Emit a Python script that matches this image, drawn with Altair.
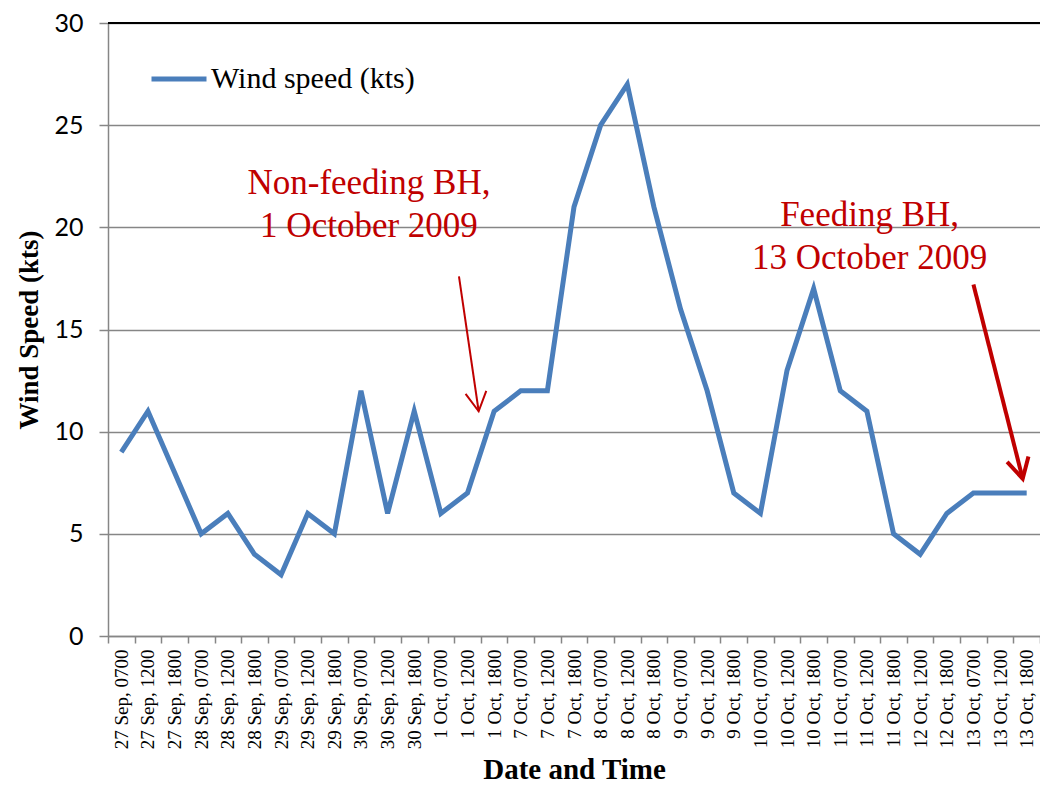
import altair as alt
import pandas as pd

labels = [
    "27 Sep, 0700", "27 Sep, 1200", "27 Sep, 1800",
    "28 Sep, 0700", "28 Sep, 1200", "28 Sep, 1800",
    "29 Sep, 0700", "29 Sep, 1200", "29 Sep, 1800",
    "30 Sep, 0700", "30 Sep, 1200", "30 Sep, 1800",
    "1 Oct, 0700", "1 Oct, 1200", "1 Oct, 1800",
    "7 Oct, 0700", "7 Oct, 1200", "7 Oct, 1800",
    "8 Oct, 0700", "8 Oct, 1200", "8 Oct, 1800",
    "9 Oct, 0700", "9 Oct, 1200", "9 Oct, 1800",
    "10 Oct, 0700", "10 Oct, 1200", "10 Oct, 1800",
    "11 Oct, 0700", "11 Oct, 1200", "11 Oct, 1800",
    "12 Oct, 1200", "12 Oct, 1800",
    "13 Oct, 0700", "13 Oct, 1200", "13 Oct, 1800",
]
speeds = [9, 11, 8, 5, 6, 4, 3, 6, 5, 12, 6, 11, 6, 7, 11, 12, 12, 21,
          25, 27, 21, 16, 12, 7, 6, 13, 17, 12, 11, 5, 4, 6, 7, 7, 7]
series_name = "Wind speed (kts)"
y_ticks = [0, 5, 10, 15, 20, 25, 30]

# annotations (in data coordinates: category index, knots)
ann_text = ["Non-feeding BH,\n1 October 2009", "Feeding BH,\n13 October 2009"]
ann_x = [9.3, 28.1]
ann_y = [22.15, 20.6]
arrow1 = {"x": [12.68], "y": [17.6], "x2": [13.42], "y2": [11.0]}
arrow2 = {"x": [32.0], "y": [17.2], "x2": [33.85], "y2": [7.7]}

W, H = 932, 613
n = len(labels)
step = W / n

df = pd.DataFrame({"idx": list(range(n)), "label": labels, "speed": speeds,
                   "series": [series_name] * n})
ann_df = pd.DataFrame({"x": ann_x, "y": ann_y, "t": ann_text})
a1 = pd.DataFrame(arrow1)
a2 = pd.DataFrame(arrow2)
top_df = pd.DataFrame({"y": [y_ticks[-1]]})

xs = alt.Scale(domain=[-0.5, n - 0.5], nice=False, zero=False)
ys = alt.Scale(domain=[y_ticks[0], y_ticks[-1]], nice=False)

label_arr = "[" + ",".join("'" + l + "'" for l in labels) + "]"
tick_vals = [i - 0.5 for i in range(n + 1)]
x_axis = alt.Axis(
    values=tick_vals, tickCount=100,
    labelExpr=f"datum.value < {n - 1} ? {label_arr}[floor(datum.value + 0.5)] : ''",
    labelOffset=step / 2,
    labelAngle=270,
    labelFont="Liberation Serif", labelFontSize=19, labelColor="black",
    labelOverlap=False, labelFlush=False, labelBound=False,
    labelPadding=6,
    tickSize=7, tickColor="#868686", tickWidth=1.5,
    domainColor="#868686", domainWidth=1.5,
    grid=False,
    title="Date and Time", titleFont="Liberation Serif", titleFontSize=29,
    titleFontWeight="bold", titleColor="black", titlePadding=7,
)
y_axis = alt.Axis(
    values=y_ticks, format="d",
    labelFont="Lato", labelFontSize=25, labelColor="black", labelPadding=16,
    tickSize=9, tickColor="#868686", tickWidth=1.5,
    domainColor="#868686", domainWidth=1.5,
    grid=True, gridColor="#868686", gridWidth=1.5,
    title="Wind Speed (kts)", titleFont="Liberation Serif", titleFontSize=27,
    titleFontWeight="bold", titleColor="black", titlePadding=10,
)

line = alt.Chart(df).mark_line(strokeWidth=5, strokeJoin="miter").encode(
    x=alt.X("idx:Q", scale=xs, axis=x_axis),
    y=alt.Y("speed:Q", scale=ys, axis=y_axis),
    color=alt.Color("series:N", scale=alt.Scale(range=["#4A7EBB"]),
                    legend=alt.Legend(title=None, orient="none", legendX=41, legendY=26,
                                      symbolType="stroke", symbolSize=3025,
                                      symbolStrokeWidth=5, labelFont="Liberation Serif",
                                      labelFontSize=30, labelColor="black", labelLimit=0,
                                      labelOffset=2, padding=0)),
)

top_rule = alt.Chart(top_df).mark_rule(color="black", strokeWidth=2).encode(
    y=alt.Y("y:Q", scale=ys))

texts = alt.Chart(ann_df).mark_text(
    font="Liberation Serif", fontSize=35, color="#C00000", lineBreak="\n",
    lineHeight=43, align="center", baseline="middle",
).encode(x=alt.X("x:Q", scale=xs), y=alt.Y("y:Q", scale=ys), text="t:N")

red = "#C00000"
head_path = "M-0.55,-1L0,0L0.55,-1"

arr1_line = alt.Chart(a1).mark_rule(color=red, strokeWidth=2).encode(
    x=alt.X("x:Q", scale=xs), y=alt.Y("y:Q", scale=ys), x2="x2:Q", y2="y2:Q")
arr1_head = alt.Chart(a1).mark_point(
    shape=head_path, size=1444, filled=False, color=red, strokeWidth=2,
    opacity=1, angle=351.7, strokeJoin="miter",
).encode(x=alt.X("x2:Q", scale=xs), y=alt.Y("y2:Q", scale=ys))

arr2_line = alt.Chart(a2).mark_rule(color=red, strokeWidth=4).encode(
    x=alt.X("x:Q", scale=xs), y=alt.Y("y:Q", scale=ys), x2="x2:Q", y2="y2:Q")
arr2_head = alt.Chart(a2).mark_point(
    shape=head_path, size=1600, filled=False, color=red, strokeWidth=4,
    opacity=1, angle=345.8, strokeJoin="miter",
).encode(x=alt.X("x2:Q", scale=xs), y=alt.Y("y2:Q", scale=ys))

chart = alt.layer(top_rule, line, texts, arr1_line, arr1_head, arr2_line, arr2_head).properties(
    width=W, height=H,
    autosize=alt.AutoSizeParams(type="none"),
    padding={"left": 100, "top": 15, "right": 0, "bottom": 152},
).configure_view(stroke=None).configure(background="white")

chart.save("out.html", embed_options={"renderer": "svg", "actions": False})
